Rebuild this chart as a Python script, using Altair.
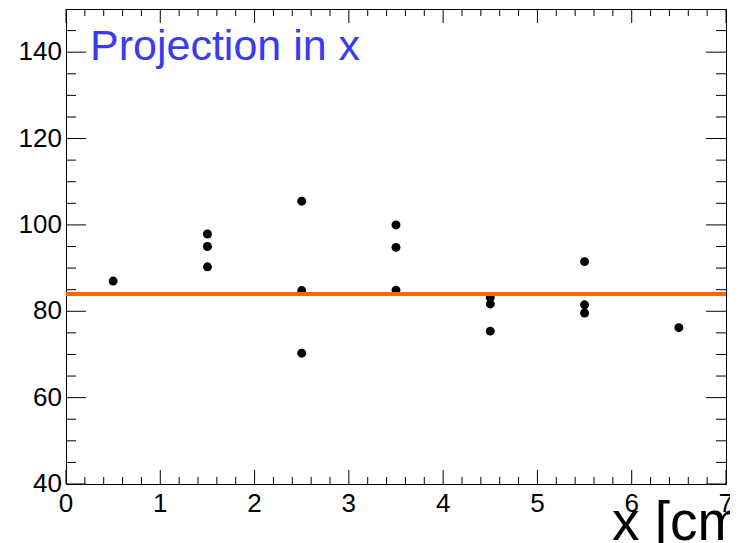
import altair as alt
import pandas as pd

# ---- data ----
x_vals = [0.5, 1.5, 1.5, 1.5, 2.5, 2.5, 2.5, 3.5, 3.5, 3.5, 4.5, 4.5, 4.5, 5.5, 5.5, 5.5, 6.5]
y_vals = [87.0, 97.9, 95.0, 90.3, 105.5, 84.8, 70.3, 100.0, 94.8, 84.9, 83.2, 81.7, 75.4, 91.5, 81.5, 79.6, 76.2]
fit_value = 84.0
fit_range = [0, 7]
title_text = "Projection in x"
x_title = "x [cm]"

x_major = [0, 1, 2, 3, 4, 5, 6, 7]
x_labels = ["0", "1", "2", "3", "4", "5", "6", "7"]
x_minor = [round(i * 0.2, 1) for i in range(36) if i % 5 != 0]
y_major = [40, 60, 80, 100, 120, 140]
y_labels = ["40", "60", "80", "100", "120", "140"]
y_minor = [v for v in range(45, 150, 5) if v % 20 != 0]

W, H = 660, 475
FONT = "Liberation Sans"

xs = alt.Scale(domain=[0, 7], nice=False, zero=False)
ys = alt.Scale(domain=[40, 150], nice=False, zero=False)

pts_df = pd.DataFrame({"x": x_vals, "y": y_vals})
fit_df = pd.DataFrame({"x": [fit_range[0]], "x2": [fit_range[1]], "y": [fit_value]})

points = alt.Chart(pts_df).mark_circle(size=80, color="black", opacity=1).encode(
    x=alt.X("x:Q", scale=xs, axis=None),
    y=alt.Y("y:Q", scale=ys, axis=None),
)

fit = alt.Chart(fit_df).mark_rule(color="#ff6600", strokeWidth=4).encode(
    x=alt.X("x:Q", scale=xs, axis=None),
    x2="x2:Q",
    y=alt.Y("y:Q", scale=ys, axis=None),
)


def xticks(vals, length):
    df = pd.DataFrame({"t": vals})
    bot = alt.Chart(df).mark_rule(color="black", strokeWidth=1).encode(
        x=alt.X("t:Q", scale=xs, axis=None), y=alt.value(H), y2=alt.value(H - length))
    top = alt.Chart(df).mark_rule(color="black", strokeWidth=1).encode(
        x=alt.X("t:Q", scale=xs, axis=None), y=alt.value(0), y2=alt.value(length))
    return [bot, top]


def yticks(vals, length):
    df = pd.DataFrame({"t": vals})
    left = alt.Chart(df).mark_rule(color="black", strokeWidth=1).encode(
        y=alt.Y("t:Q", scale=ys, axis=None), x=alt.value(0), x2=alt.value(length))
    right = alt.Chart(df).mark_rule(color="black", strokeWidth=1).encode(
        y=alt.Y("t:Q", scale=ys, axis=None), x=alt.value(W), x2=alt.value(W - length))
    return [left, right]


tick_layers = xticks(x_major, 14) + xticks(x_minor, 7) + yticks(y_major, 20) + yticks(y_minor, 10)

xlab = alt.Chart(pd.DataFrame({"t": x_major, "lab": x_labels})).mark_text(
    align="center", baseline="top", fontSize=26, font=FONT, color="black"
).encode(x=alt.X("t:Q", scale=xs, axis=None), y=alt.value(H + 7), text="lab:N")

ylab = alt.Chart(pd.DataFrame({"t": y_major, "lab": y_labels})).mark_text(
    align="right", baseline="middle", fontSize=26, font=FONT, color="black"
).encode(y=alt.Y("t:Q", scale=ys, axis=None), x=alt.value(-4), text="lab:N")

xtitle = alt.Chart(pd.DataFrame({"label": [x_title]})).mark_text(
    align="left", baseline="alphabetic", fontSize=55, font=FONT, color="black"
).encode(x=alt.value(546), y=alt.value(H + 56), text="label:N")

title = alt.Chart(pd.DataFrame({"label": [title_text]})).mark_text(
    align="left", baseline="alphabetic", fontSize=43, font=FONT, color="#3a3af5"
).encode(x=alt.value(24), y=alt.value(51), text="label:N")

chart = alt.layer(points, fit, *tick_layers, xlab, ylab, xtitle, title).properties(
    width=W, height=H,
    padding={"left": 58, "top": 1, "right": 4, "bottom": 59},
    autosize=alt.AutoSizeParams(type="none"),
    background="white",
).configure_view(stroke="black", strokeWidth=1)

chart.save("out.html", embed_options={"renderer": "svg", "actions": False})
